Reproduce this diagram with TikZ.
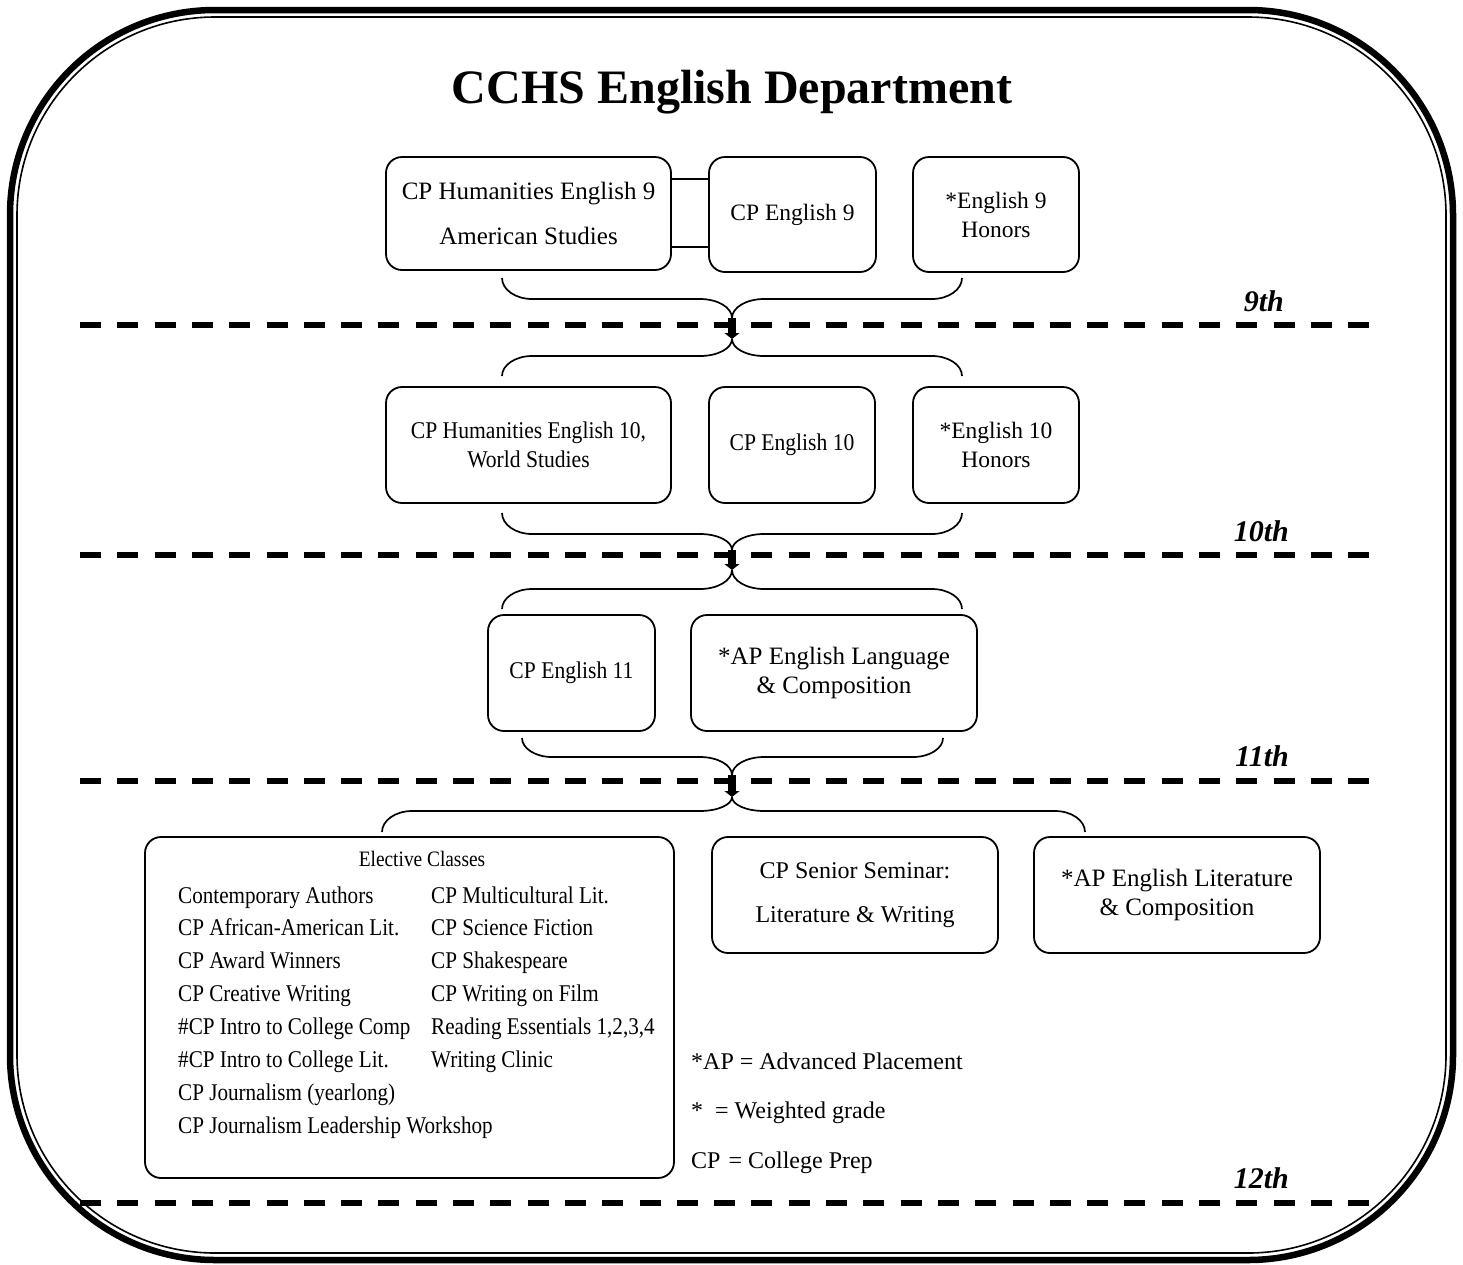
\documentclass[tikz,border=0pt]{standalone}
\usepackage{fontspec}
\setmainfont{Liberation Serif}
\newfontfamily\condfont{Liberation Serif}[FakeStretch=0.9]
\newfontfamily\elfont{Liberation Serif}[FakeStretch=0.88]
\usetikzlibrary{arrows.meta,calc}

% elliptical quarter curves: k = 0.552
\newcommand\BrCollect[5]{% left end, right end, tip, drop to horizontal, drop to tip
  \draw[brace] (#1) .. controls +(0,0.552*#4) and +(-16.5,0) .. ++(30,#4) -- ($(#3)+(-32,-#5)$) .. controls +(17.7,0) and +(0,-0.552*#5) .. (#3);
  \draw[brace] (#2) .. controls +(0,0.552*#4) and +(16.5,0) .. ++(-30,#4) -- ($(#3)+(32,-#5)$) .. controls +(-17.7,0) and +(0,-0.552*#5) .. (#3);
}
\newcommand\BrSpread[5]{% tip, left end, right end, drop to horizontal, drop to ends
  \draw[brace] (#1) .. controls +(0,0.552*#4) and +(17.7,0) .. ($(#1)+(-32,#4)$) -- ($(#2)+(30,-#5)$) .. controls +(-16.5,0) and +(0,-0.552*#5) .. (#2);
  \draw[brace] (#1) .. controls +(0,0.552*#4) and +(-17.7,0) .. ($(#1)+(32,#4)$) -- ($(#3)+(-30,-#5)$) .. controls +(16.5,0) and +(0,-0.552*#5) .. (#3);
}

\begin{document}
\begin{tikzpicture}[x=1pt,y=-1pt,
  box/.style={draw, line width=1.8pt, rounded corners=16pt, align=center, inner sep=0pt},
  brace/.style={draw, line width=1.7pt},
  grade/.style={font={\fontsize{30}{36}\selectfont\bfseries\itshape}, anchor=base east, inner sep=0pt},
  sepline/.style={line width=5.5pt, dash pattern=on 21pt off 16.3pt},
  flow/.style={line width=8pt, -{Triangle[width=15pt,length=6pt]}},
  legend/.style={font={\fontsize{24}{29}\selectfont}, anchor=base west, inner sep=0pt},
  f25/.style={font={\fontsize{25}{29}\selectfont}},
  f24/.style={font={\fontsize{24}{29}\selectfont}},
  f235/.style={font={\fontsize{23.5}{29}\selectfont}},
  fcond/.style={font={\condfont\fontsize{24}{29}\selectfont}}
]
\useasboundingbox (0,0) rectangle (1463,1264);
\fill[white] (0,0) rectangle (1463,1264);

% frame
\draw[line width=6.5pt, rounded corners=205pt] (10,10) rectangle (1453,1260);
\draw[line width=1.6pt, rounded corners=198pt] (17,17) rectangle (1446,1253);

% title
\node[font={\fontsize{48}{56}\selectfont\bfseries}, anchor=base, inner sep=0pt] (title) at (732,103) {CCHS English Department};

% row 9
\node[box, f25, minimum width=285pt, minimum height=113pt] (A) at (528.5,213.5) {CP Humanities English 9\\[16pt]American Studies};
\node[box, f235, minimum width=167pt, minimum height=115pt] (B) at (792.5,214.5) {CP English 9};
\node[box, f235, minimum width=166pt, minimum height=115pt] (C) at (996,214.5) {*English 9\\Honors};
\coordinate (ab1) at (0,179);
\coordinate (ab2) at (0,247);
\draw[line width=1.8pt] (A.east |- ab1) -- (B.west |- ab1);
\draw[line width=1.8pt] (A.east |- ab2) -- (B.west |- ab2);

% row 10
\node[box, fcond, minimum width=285pt, minimum height=116pt] (D) at (528.5,445) {CP Humanities English 10,\\World Studies};
\node[box, fcond, minimum width=166pt, minimum height=116pt] (E) at (792,445) {CP English 10};
\node[box, f235, minimum width=166pt, minimum height=116pt] (F) at (996,445) {*English 10\\Honors};

% row 11
\node[box, fcond, minimum width=167pt, minimum height=116pt] (G) at (571.5,673) {CP English 11};
\node[box, f25, minimum width=286pt, minimum height=116pt] (H) at (834,673) {*AP English Language\\\& Composition};

% row 12
\node[box, minimum width=529pt, minimum height=341pt] (I) at (409.5,1007.5) {};
\node[font={\elfont\fontsize{22}{29}\selectfont}, anchor=base, inner sep=0pt] (Ititle) at (422,866) {Elective Classes};
\node[anchor=base west, inner sep=0pt, font={\elfont\fontsize{24}{32.86}\selectfont}] (Ilist) at (178,903) {%
\begin{tabular}[t]{@{}p{253pt}@{}l@{}}
Contemporary Authors & CP Multicultural Lit.\\
CP African-American Lit. & CP Science Fiction\\
CP Award Winners & CP Shakespeare\\
CP Creative Writing & CP Writing on Film\\
\#CP Intro to College Comp & Reading Essentials 1,2,3,4\\
\#CP Intro to College Lit. & Writing Clinic\\
CP Journalism (yearlong) & \\
\multicolumn{2}{@{}l@{}}{CP Journalism Leadership Workshop}
\end{tabular}};
\node[box, f24, minimum width=286pt, minimum height=116pt] (J) at (855,895) {CP Senior Seminar:\\[15pt]Literature \& Writing};
\node[box, f25, minimum width=286pt, minimum height=116pt] (K) at (1177,895) {*AP English Literature\\\& Composition};

% legend
\node[legend] (L1) at (691,1069) {*AP = Advanced Placement};
\node[legend] (L2) at (691,1118) {*\ \ = Weighted grade};
\node[legend] (L3) at (691,1168) {CP\hspace{8pt}= College Prep};

% separators
\draw[sepline] (80,325) -- (1372,325);
\draw[sepline] (80,555) -- (1372,555);
\draw[sepline] (80,781) -- (1372,781);
\draw[sepline] (80,1203) -- (1372,1203);

% grade labels
\node[grade] (g9) at (1284,311) {9th};
\node[grade] (g10) at (1289,541) {10th};
\node[grade] (g11) at (1289,766) {11th};
\node[grade] (g12) at (1289,1188) {12th};

% transition 9 -> 10
\coordinate (c1l) at (502,278); \coordinate (c1r) at (962,278); \coordinate (c1t) at (732,318);
\coordinate (s1t) at (732,339); \coordinate (s1l) at (502,376); \coordinate (s1r) at (962,376);
\BrCollect{c1l}{c1r}{c1t}{21}{19}
\draw[flow] (c1t) -- (s1t);
\BrSpread{s1t}{s1l}{s1r}{17}{20}

% transition 10 -> 11
\coordinate (c2l) at (502,513); \coordinate (c2r) at (962,513); \coordinate (c2t) at (732,550);
\coordinate (s2t) at (732,570); \coordinate (s2l) at (502,609); \coordinate (s2r) at (962,609);
\BrCollect{c2l}{c2r}{c2t}{21}{16}
\draw[flow] (c2t) -- (s2t);
\BrSpread{s2t}{s2l}{s2r}{19}{20}

% transition 11 -> 12
\coordinate (c3l) at (522,738); \coordinate (c3r) at (943,738); \coordinate (c3t) at (732,775);
\coordinate (s3t) at (732,797); \coordinate (s3l) at (382,832); \coordinate (s3r) at (1085,832);
\BrCollect{c3l}{c3r}{c3t}{19}{18}
\draw[flow] (c3t) -- (s3t);
\BrSpread{s3t}{s3l}{s3r}{14}{21}
\end{tikzpicture}
\end{document}
